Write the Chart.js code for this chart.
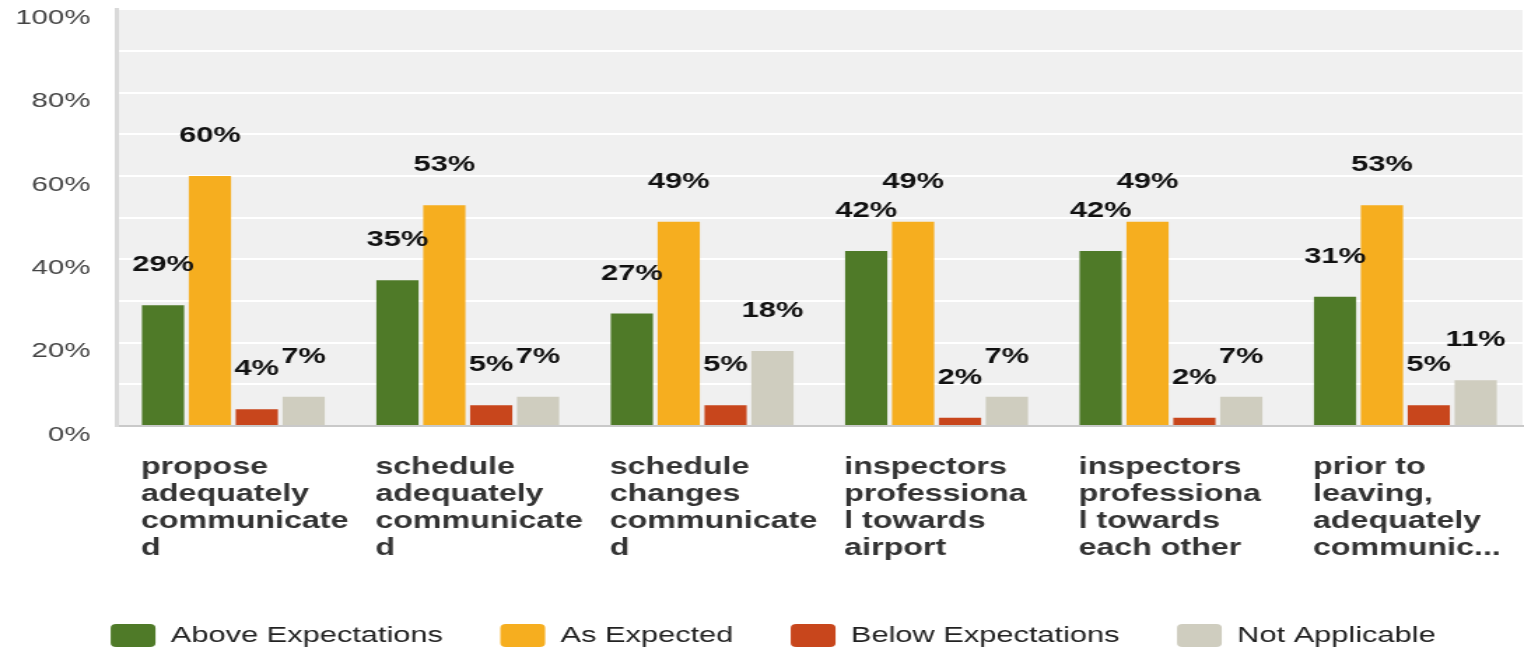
<!DOCTYPE html>
<html>
<head>
<meta charset="utf-8">
<script src="https://cdn.jsdelivr.net/npm/chart.js@4/dist/chart.umd.min.js"></script>
<style>
    html, body { margin: 0; padding: 0; background: #ffffff; overflow: hidden; }
    #wrap {
        position: relative;
        width: 1089px;
        height: 648px;
        transform: scaleX(1.3994);
        transform-origin: 0 0;
    }
</style>
</head>
<body>
<div id="wrap"><canvas id="surveyChart" width="1089" height="648"></canvas></div>
<script>
var categories = [
    ['propose', 'adequately', 'communicate', 'd'],
    ['schedule', 'adequately', 'communicate', 'd'],
    ['schedule', 'changes', 'communicate', 'd'],
    ['inspectors', 'professiona', 'l towards', 'airport'],
    ['inspectors', 'professiona', 'l towards', 'each other'],
    ['prior to', 'leaving,', 'adequately', 'communic...']
];
var seriesNames = ['Above Expectations', 'As Expected', 'Below Expectations', 'Not Applicable'];
var aboveExpectations = [29, 35, 27, 42, 42, 31];
var asExpected = [60, 53, 49, 49, 49, 53];
var belowExpectations = [4, 5, 5, 2, 2, 5];
var notApplicable = [7, 7, 18, 7, 7, 11];
var yTicks = [0, 20, 40, 60, 80, 100];

var colors = ['#4f7a28', '#f6ae1f', '#c8461c', '#cfcdbf'];

// light gray plot background
var plotBackground = {
    id: 'plotBackground',
    beforeDraw: function(chart) {
        var a = chart.chartArea;
        var ctx = chart.ctx;
        ctx.save();
        ctx.fillStyle = '#f0f0f0';
        ctx.fillRect(a.left, a.top, a.right - a.left, a.bottom - a.top);
        ctx.restore();
    }
};

// nudge legend a bit right, like the original
var legendShift = {
    id: 'legendShift',
    afterLayout: function(chart) {
        if (!chart.legend) return;
        chart.legend.left += 8.5;
        chart.legend.right += 8.5;
    }
};

// percent labels above bars
var barValues = {
    id: 'barValues',
    afterDatasetsDraw: function(chart) {
        var ctx = chart.ctx;
        ctx.save();
        ctx.font = 'bold 22px "Liberation Sans", Arial, sans-serif';
        ctx.fillStyle = '#111111';
        ctx.textAlign = 'center';
        ctx.textBaseline = 'middle';
        chart.data.datasets.forEach(function(ds, i) {
            var meta = chart.getDatasetMeta(i);
            meta.data.forEach(function(bar, j) {
                ctx.fillText(ds.data[j] + '%', bar.x, bar.y - 40);
            });
        });
        ctx.restore();
    }
};

var seriesData = [aboveExpectations, asExpected, belowExpectations, notApplicable];

new Chart(document.getElementById('surveyChart').getContext('2d'), {
    type: 'bar',
    data: {
        labels: categories,
        datasets: seriesNames.map(function(name, i) {
            return {
                label: name,
                data: seriesData[i],
                backgroundColor: colors[i],
                borderWidth: 0,
                categoryPercentage: 0.8,
                barPercentage: 0.9
            };
        })
    },
    options: {
        responsive: false,
        animation: false,
        devicePixelRatio: 1,
        layout: { padding: { left: 0, right: 1, top: 0, bottom: -9 } },
        plugins: {
            tooltip: { enabled: false },
            legend: {
                position: 'bottom',
                labels: {
                    boxWidth: 32,
                    boxHeight: 23,
                    useBorderRadius: true,
                    borderRadius: 4,
                    padding: 41,
                    color: '#222222',
                    font: { family: '"Liberation Sans", Arial, sans-serif', size: 22 }
                }
            }
        },
        scales: {
            x: {
                grid: { display: false, drawTicks: false },
                border: { color: '#c9c9c9', width: 2 },
                afterFit: function(scale) {
                    scale.height = 157;
                    scale.paddingLeft = 0;
                    scale.paddingRight = 0;
                },
                ticks: {
                    autoSkip: false,
                    maxRotation: 0,
                    minRotation: 0,
                    align: 'start',
                    labelOffset: -66,
                    padding: 28,
                    color: '#333333',
                    font: { family: '"Liberation Sans", Arial, sans-serif', size: 23, weight: 'bold', lineHeight: 27 / 23 }
                }
            },
            y: {
                min: 0,
                max: 100,
                afterFit: function(scale) {
                    scale.width = 83;
                    scale.paddingTop = 9.3;
                    scale.paddingBottom = 0;
                },
                grid: { color: '#ffffff', lineWidth: 2, drawTicks: false },
                border: { color: '#d9d9d9', width: 3 },
                ticks: {
                    stepSize: 10,
                    padding: 18.4,
                    labelOffset: 9,
                    color: '#444444',
                    font: { family: '"Liberation Sans", Arial, sans-serif', size: 21, lineHeight: 0.9 },
                    callback: function(value) {
                        return yTicks.indexOf(value) >= 0 ? value + '%' : '';
                    }
                }
            }
        }
    },
    plugins: [plotBackground, legendShift, barValues]
});
</script>
</body>
</html>
